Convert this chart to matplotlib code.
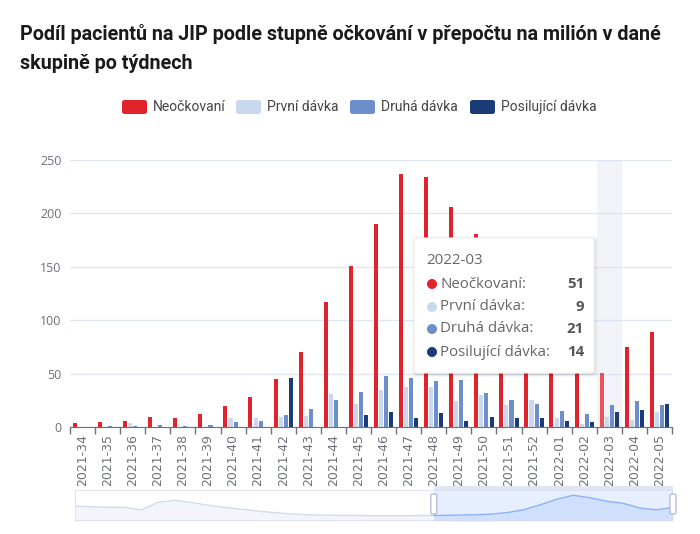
import matplotlib
matplotlib.use('Agg')
import matplotlib.pyplot as plt
from matplotlib.patches import FancyBboxPatch, Rectangle, Ellipse
import numpy as np

# ---------------- data ----------------
categories = ['2021-34', '2021-35', '2021-36', '2021-37', '2021-38', '2021-39',
              '2021-40', '2021-41', '2021-42', '2021-43', '2021-44', '2021-45',
              '2021-46', '2021-47', '2021-48', '2021-49', '2021-50', '2021-51',
              '2021-52', '2022-01', '2022-02', '2022-03', '2022-04', '2022-05']
neockovani = [4, 5, 6, 9, 8, 12, 20, 28, 45, 70, 117, 151, 190, 237, 234, 206,
              181, 150, 118, 90, 68, 51, 75, 89]
prvni = [0, 0, 4, 0, 0, 0, 8, 8, 9, 10, 31, 22, 35, 37, 37, 24, 30, 21, 25, 8, 3, 9, 7, 14]
druha = [0, 1, 1, 2, 1, 2, 5, 6, 11, 17, 25, 33, 48, 46, 43, 44, 32, 25, 22, 15, 12, 21, 24, 21]
posilujici = [0, 0, 0, 0, 0, 0, 0, 0, 46, 0, 0, 11, 14, 8, 13, 6, 9, 8, 8, 6, 5, 14, 16, 22]
series_names = ['Neočkovaní', 'První dávka', 'Druhá dávka', 'Posilující dávka']
series_colors = ['#e0232c', '#c9d8ef', '#6c8fcb', '#1b3a78']
y_ticks = [0, 50, 100, 150, 200, 250]
highlight = '2022-03'
title_lines = ['Podíl pacientů na JIP podle stupně očkování v přepočtu na milión v dané',
               'skupině po týdnech']
# overview (data shadow) of the zoom slider, relative heights
shadow_values = [48, 46, 44, 44, 36, 60, 67, 60, 51, 44, 38, 32, 27, 23, 20, 19, 18, 18, 17,
                 17, 17, 18, 18, 19, 20, 22, 27, 36, 52, 70, 83, 75, 64, 57, 42, 36, 44]
zoom_start = 0.6

series = [neockovani, prvni, druha, posilujici]

# ---------------- figure ----------------
W, H = 700, 534
fig = plt.figure(figsize=(W / 100, H / 100), dpi=100)
fig.patch.set_facecolor('white')


def fx(px):
    return px / W


def fy(py):
    return 1 - py / H


NARROW = ['Roboto', 'DejaVu Sans']
SANS = ['Open Sans', 'DejaVu Sans']

# title
fig.text(fx(20), fy(40), title_lines[0], family=NARROW, fontweight='bold',
         fontsize=14.2, color='#1a1a1a', va='baseline', ha='left')
fig.text(fx(20), fy(69), title_lines[1], family=NARROW, fontweight='bold',
         fontsize=14.2, color='#1a1a1a', va='baseline', ha='left')

# legend (manual)
leg_marker_x = [122, 236, 350, 470]
for name, col, lx in zip(series_names, series_colors, leg_marker_x):
    p = FancyBboxPatch((fx(lx), fy(114)), fx(25), 14 / H,
                       boxstyle='round,pad=0,rounding_size=0.004',
                       transform=fig.transFigure, facecolor=col, edgecolor='none')
    fig.add_artist(p)
    fig.text(fx(lx + 31), fy(107), name, family=NARROW, fontsize=10,
             color='#444444', va='center', ha='left')

# main axes
ax = fig.add_axes([fx(70), fy(427), fx(672) - fx(70), fy(160) - fy(427)])
n = len(categories)
x = np.arange(n)
bw = 0.16
pitch = 0.203
offsets = (np.arange(4) - 1.5) * pitch
hi = categories.index(highlight)

ax.axvspan(hi - 0.5, hi + 0.5, color='#f1f3f9', zorder=0.5, lw=0)

for k, (vals, col) in enumerate(zip(series, series_colors)):
    cols = [col] * n
    if k == 0:
        cols[hi] = '#e6535a'
    ax.bar(x + offsets[k], vals, width=bw, color=cols, zorder=2, linewidth=0)

ax.set_xlim(-0.5, n - 0.5)
ax.set_ylim(0, 250)
ax.set_yticks(y_ticks)
ax.set_yticklabels([str(t) for t in y_ticks], family=SANS, fontsize=9, color='#6e7079')
ax.tick_params(axis='y', length=0, pad=6)
ax.grid(axis='y', color='#e0e6f1', lw=1, zorder=0)
ax.set_axisbelow(True)
for s in ['top', 'right', 'left']:
    ax.spines[s].set_visible(False)
ax.spines['bottom'].set_color('#6e7079')
ax.spines['bottom'].set_zorder(3)

ax.set_xticks(x)
ax.set_xticklabels(categories, rotation=90, family=['DejaVu Sans'], fontsize=9,
                   color='#6e7079', va='top', ha='center')
ax.tick_params(axis='x', length=0, pad=5)
ax.set_xticks(np.arange(-0.5, n, 1.0), minor=True)
ax.tick_params(axis='x', which='minor', length=5, color='#6e7079', width=1)

# tooltip
tip_l, tip_t, tip_r, tip_b = 414, 238, 594, 373
for off, a in [(3, 0.03), (2, 0.04), (1, 0.05)]:
    sb = FancyBboxPatch((fx(tip_l - off + 1), fy(tip_b + off + 1)), fx(tip_r - tip_l + 2 * off),
                        (tip_b - tip_t + 2 * off) / H,
                        boxstyle='round,pad=0,rounding_size=0.008',
                        transform=fig.transFigure, facecolor='#000000', alpha=a,
                        edgecolor='none', zorder=9)
    fig.add_artist(sb)
tip = FancyBboxPatch((fx(tip_l), fy(tip_b)), fx(tip_r - tip_l), (tip_b - tip_t) / H,
                     boxstyle='round,pad=0,rounding_size=0.006',
                     transform=fig.transFigure, facecolor='white', edgecolor='#f2f2f2',
                     lw=0.8, zorder=10)
fig.add_artist(tip)
fig.text(fx(426), fy(261), highlight, family=SANS, fontsize=10.8, color='#666666',
         va='center', ha='left', zorder=11)
row_y = [284, 307, 329, 352]
for k, (name, col, ry) in enumerate(zip(series_names, series_colors, row_y)):
    c = Ellipse((fx(432), fy(ry)), 10 / W, 10 / H, transform=fig.transFigure,
                facecolor=col, edgecolor='none', zorder=11)
    fig.add_artist(c)
    fig.text(fx(440), fy(ry), name + ':', family=SANS, fontsize=10.8, color='#666666',
             va='center', ha='left', zorder=11)
    fig.text(fx(584), fy(ry), str(series[k][hi]), family=SANS, fontsize=10.8,
             fontweight='bold', color='#555555', va='center', ha='right', zorder=11)

# data-zoom slider
sx0, sx1, sy0, sy1 = 75, 673, 490, 521
sax = fig.add_axes([fx(sx0), fy(sy1), fx(sx1) - fx(sx0), fy(sy0) - fy(sy1)])
sax.set_xlim(0, 1)
sax.set_ylim(0, 1)
sax.axis('off')
sv = np.array(shadow_values) / 100.0
sxs = np.linspace(0, 1, len(sv))
sv_start = np.interp(zoom_start, sxs, sv)
xl = np.append(sxs[sxs < zoom_start], zoom_start)
yl = np.append(sv[sxs < zoom_start], sv_start)
xr = np.insert(sxs[sxs > zoom_start], 0, zoom_start)
yr = np.insert(sv[sxs > zoom_start], 0, sv_start)
sax.fill_between(xl, 0, yl, color='#d2dbee', alpha=0.25, lw=0)
sax.plot(xl, yl, color='#d2dbee', lw=1)
sax.add_patch(Rectangle((zoom_start, 0), 1 - zoom_start, 1, facecolor='#87affe',
                        alpha=0.2, lw=0))
sax.fill_between(xr, 0, yr, color='#8fb0f7', alpha=0.25, lw=0)
sax.plot(xr, yr, color='#8fb0f7', lw=1)
frame = FancyBboxPatch((0, 0), 1, 1, boxstyle='round,pad=0,rounding_size=0.006',
                       facecolor='none', edgecolor='#d2dbee', lw=1, transform=sax.transAxes,
                       mutation_aspect=1)
sax.add_patch(frame)

# move-handle strip above selection
strip = Rectangle((fx(sx0 + zoom_start * (sx1 - sx0)), fy(sy0)), fx((1 - zoom_start) * (sx1 - sx0)),
                  4 / H, transform=fig.transFigure, facecolor='#d2dbee', alpha=0.7,
                  edgecolor='none')
fig.add_artist(strip)
for hx in [zoom_start, 1.0]:
    px = sx0 + hx * (sx1 - sx0)
    h = FancyBboxPatch((fx(px - 3), fy(514)), fx(6), 20 / H,
                       boxstyle='round,pad=0,rounding_size=0.003',
                       transform=fig.transFigure, facecolor='white', edgecolor='#acb8d1',
                       lw=0.9, zorder=5)
    fig.add_artist(h)

fig.savefig('out.png', dpi=100, facecolor='white')
